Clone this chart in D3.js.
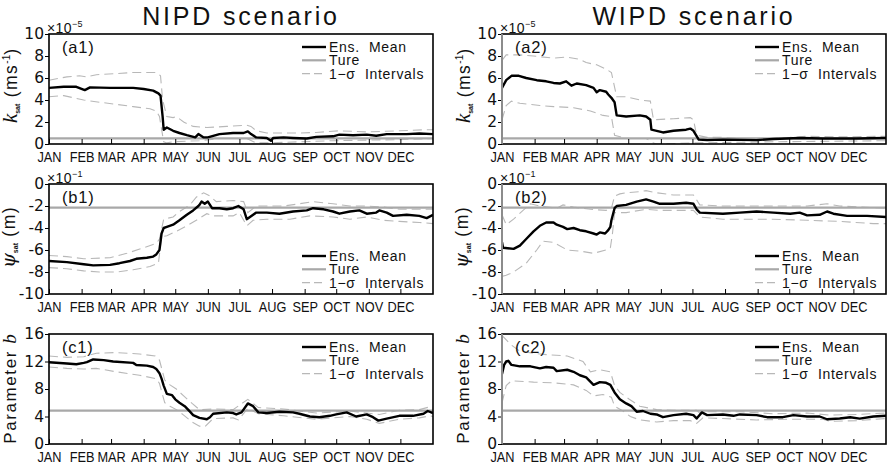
<!DOCTYPE html>
<html>
<head>
<meta charset="utf-8">
<script src="https://cdn.jsdelivr.net/npm/d3@7"></script>
<style>
  body { margin: 0; background: #fff; }
  svg { display: block; }
  text { font-family: "Liberation Sans", Arial, sans-serif; fill: #111; }
</style>
</head>
<body>
<svg id="chart" width="887" height="462"></svg>
<script>
// Month ticks (day of year)
const months = ["JAN", "FEB", "MAR", "APR", "MAY", "JUN", "JUL", "AUG", "SEP", "OCT", "NOV", "DEC"];
const monthStart = [0, 31, 59, 90, 120, 151, 181, 212, 243, 273, 304, 334];

// True parameter values
const trueK = 0.52, truePsi = -2.15, trueB = 4.85;

// ---- k_sat, NIPD (x1e-5) ----
const a1Mean = [[0,5.1],[14,5.2],[26,5.2],[34,4.9],[39,5.15],[58,5.1],[80,5.1],[90,5.0],[99,4.85],[104,4.6],[106,4.4],[108,2.5],[109,1.3],[112,1.5],[118,1.2],[124,1.0],[131,0.8],[139,0.6],[142,0.9],[147,0.6],[151,0.6],[162,0.9],[175,1.0],[185,1.0],[189,1.15],[192,0.9],[197,0.6],[207,0.55],[211,0.3],[213,0.55],[223,0.6],[232,0.55],[245,0.5],[254,0.65],[270,0.7],[276,0.85],[289,0.8],[302,0.85],[311,0.75],[321,0.9],[340,0.9],[352,0.95],[365,0.9]];
const a1Up = [[0,5.8],[17,6.1],[29,6.2],[36,6.1],[45,6.3],[64,6.4],[80,6.5],[102,6.5],[106,6.2],[108,4.0],[112,2.5],[118,2.4],[121,2.5],[128,2.0],[137,1.6],[150,1.5],[169,1.6],[188,1.7],[192,1.6],[197,1.2],[207,1.0],[238,1.0],[254,1.05],[276,1.2],[302,1.1],[333,1.2],[359,1.3],[365,1.3]];
const a1Lo = [[0,4.3],[14,4.4],[33,4.0],[48,3.8],[64,3.6],[80,3.4],[96,3.2],[102,3.0],[105,2.5],[109,0.2],[112,0.1],[118,0.2],[143,0.3],[162,0.5],[188,0.5],[197,0.1],[207,0.1],[270,0.3],[333,0.4],[365,0.5]];

// ---- k_sat, WIPD (x1e-5) ----
const a2Mean = [[0,5.1],[4,5.8],[9,6.2],[16,6.2],[23,6.0],[33,5.8],[42,5.7],[49,5.55],[55,5.5],[61,5.7],[66,5.3],[71,5.5],[80,5.35],[87,5.1],[90,4.7],[93,4.9],[99,4.75],[101,4.5],[104,4.2],[107,3.8],[109,2.6],[118,2.5],[131,2.6],[137,2.5],[141,2.2],[142,1.3],[147,1.2],[153,1.05],[163,1.2],[175,1.3],[179,1.4],[182,1.2],[187,0.4],[195,0.35],[210,0.4],[242,0.35],[258,0.45],[283,0.55],[305,0.5],[337,0.5],[365,0.55]];
const a2Up = [[0,7.6],[4,8.1],[17,8.1],[30,8.0],[49,7.8],[61,7.9],[74,7.7],[80,7.4],[90,7.2],[99,6.8],[104,6.5],[109,4.3],[118,4.3],[131,4.0],[141,3.9],[144,2.2],[163,2.3],[179,2.4],[182,2.2],[185,0.8],[195,0.6],[210,0.6],[226,0.5],[242,0.5],[274,0.6],[290,0.7],[321,0.65],[365,0.7]];
const a2Lo = [[0,2.2],[4,3.5],[9,3.9],[17,3.7],[36,3.5],[49,3.4],[68,3.3],[84,3.0],[96,2.6],[104,2.5],[107,0.8],[118,0.5],[137,0.5],[144,0.1],[147,0.0],[182,0.1],[258,0.2],[365,0.3]];

// ---- psi_sat, NIPD (x1e-1) ----
const b1Mean = [[0,-7.0],[17,-7.1],[33,-7.3],[42,-7.4],[58,-7.35],[67,-7.2],[77,-7.0],[83,-6.8],[93,-6.7],[99,-6.6],[102,-6.4],[105,-6.0],[107,-4.5],[109,-4.0],[112,-3.9],[118,-3.7],[124,-3.3],[131,-2.8],[137,-2.4],[142,-2.0],[143,-1.9],[145,-1.6],[148,-1.8],[151,-1.6],[155,-2.2],[162,-2.2],[169,-2.3],[175,-2.2],[180,-2.0],[185,-2.3],[188,-3.2],[191,-3.0],[197,-2.6],[207,-2.6],[219,-2.7],[232,-2.5],[245,-2.4],[251,-2.2],[261,-2.3],[270,-2.5],[276,-2.7],[286,-2.5],[295,-2.4],[302,-2.7],[311,-2.6],[314,-2.4],[321,-2.6],[327,-2.9],[340,-2.8],[352,-2.9],[359,-3.1],[365,-2.8]];
const b1Up = [[0,-6.5],[17,-6.6],[33,-6.8],[58,-6.7],[74,-6.3],[90,-5.8],[102,-5.4],[105,-5.0],[109,-3.2],[118,-3.0],[124,-2.5],[134,-1.9],[140,-1.2],[147,-0.8],[153,-1.1],[159,-1.6],[175,-1.5],[185,-1.6],[189,-2.6],[197,-2.0],[223,-2.0],[238,-1.8],[251,-1.6],[270,-1.8],[286,-2.0],[302,-2.0],[318,-2.1],[333,-2.3],[365,-2.3]];
const b1Lo = [[0,-7.6],[17,-7.7],[33,-7.9],[48,-8.0],[64,-8.0],[80,-7.8],[96,-7.5],[104,-7.2],[107,-4.8],[112,-4.7],[121,-4.3],[131,-3.8],[140,-3.3],[150,-2.7],[156,-2.9],[175,-2.9],[181,-2.6],[188,-3.8],[194,-3.3],[207,-3.2],[229,-3.2],[248,-2.9],[270,-3.0],[286,-3.2],[302,-3.0],[318,-3.3],[333,-3.4],[352,-3.5],[365,-3.6]];

// ---- psi_sat, WIPD (x1e-1) ----
const b2Mean = [[0,-5.3],[1,-5.8],[11,-5.9],[17,-5.6],[23,-5.0],[30,-4.3],[36,-3.8],[42,-3.5],[49,-3.5],[52,-3.7],[58,-3.9],[62,-4.1],[68,-4.0],[74,-4.2],[80,-4.3],[87,-4.5],[90,-4.6],[93,-4.4],[98,-4.5],[101,-4.2],[103,-3.9],[104,-3.3],[107,-2.2],[109,-2.0],[118,-1.9],[128,-1.6],[137,-1.4],[144,-1.6],[150,-1.8],[163,-1.8],[175,-1.7],[182,-1.8],[185,-2.3],[188,-2.6],[210,-2.7],[226,-2.6],[242,-2.5],[258,-2.6],[274,-2.7],[283,-2.6],[290,-2.85],[302,-2.8],[309,-2.5],[315,-2.7],[328,-2.9],[347,-2.9],[365,-3.0]];
const b2Up = [[0,-2.8],[4,-3.7],[11,-3.2],[20,-2.4],[27,-1.8],[36,-2.0],[52,-2.2],[58,-1.9],[68,-2.1],[84,-2.3],[99,-2.4],[104,-2.2],[107,-1.1],[112,-0.9],[118,-0.8],[131,-0.7],[137,-0.6],[147,-0.8],[163,-1.0],[182,-1.0],[188,-1.9],[210,-2.0],[258,-2.0],[290,-2.0],[309,-1.8],[321,-2.0],[365,-2.2]];
const b2Lo = [[0,-8.4],[4,-8.3],[11,-8.0],[23,-7.2],[33,-6.0],[39,-5.2],[49,-5.3],[62,-6.0],[74,-6.1],[87,-6.3],[99,-6.0],[103,-5.8],[105,-4.5],[107,-2.6],[118,-2.6],[137,-2.3],[150,-2.4],[182,-2.4],[188,-3.0],[210,-3.2],[258,-3.2],[290,-3.3],[321,-3.4],[353,-3.6],[365,-3.6]];

// ---- parameter b, NIPD ----
const c1Mean = [[0,11.9],[17,11.7],[26,11.6],[33,11.8],[36,11.9],[42,12.3],[52,12.2],[61,12.0],[80,11.8],[83,11.5],[93,11.4],[99,11.2],[102,10.9],[105,10.3],[107,9.5],[109,8.5],[112,7.3],[117,7.1],[120,6.5],[124,6.0],[129,5.5],[134,4.7],[137,4.2],[143,3.8],[150,3.6],[153,3.9],[156,4.4],[169,4.6],[175,4.5],[178,4.3],[183,4.6],[189,5.9],[194,5.5],[199,4.6],[207,4.5],[219,4.7],[232,4.6],[238,4.4],[248,4.0],[257,3.9],[267,4.1],[273,4.3],[283,4.6],[292,4.0],[302,4.3],[308,3.9],[313,3.4],[321,3.7],[333,4.1],[346,4.1],[356,4.4],[360,4.8],[365,4.5]];
const c1Up = [[0,12.8],[17,12.6],[33,12.7],[45,13.2],[64,13.3],[86,13.1],[101,12.8],[105,12.2],[110,9.3],[115,8.6],[121,8.0],[128,7.0],[136,5.9],[143,5.0],[159,5.1],[175,5.0],[189,6.5],[199,5.3],[223,5.1],[254,4.5],[286,4.8],[302,4.5],[314,4.3],[333,4.9],[352,5.0],[362,5.4],[365,5.2]];
const c1Lo = [[0,11.2],[17,11.0],[33,10.9],[45,11.0],[64,10.5],[86,10.0],[102,9.5],[105,8.8],[110,6.0],[115,5.5],[121,5.0],[128,4.2],[136,3.2],[143,2.6],[148,2.5],[156,3.7],[175,3.8],[180,3.5],[189,5.2],[199,4.4],[223,4.1],[254,3.6],[286,4.0],[302,3.6],[314,3.0],[333,3.6],[352,3.8],[362,4.1],[365,4.0]];

// ---- parameter b, WIPD ----
const c2Mean = [[0,10.2],[2,11.5],[4,12.0],[6,12.1],[9,11.5],[17,11.3],[27,11.3],[36,11.0],[42,11.2],[49,11.1],[52,10.6],[62,10.8],[68,10.5],[74,10.0],[80,9.7],[87,8.6],[93,9.0],[99,8.9],[103,8.6],[107,7.5],[112,6.5],[118,5.9],[123,5.5],[128,4.7],[134,4.8],[141,4.4],[147,4.3],[153,3.9],[163,4.2],[175,4.4],[182,4.2],[185,3.7],[190,4.6],[195,4.2],[210,4.3],[220,4.1],[226,4.3],[242,4.2],[252,3.9],[267,3.9],[277,4.2],[290,4.0],[302,4.0],[309,3.6],[321,3.7],[331,3.9],[340,3.7],[353,4.0],[365,4.1]];
const c2Up = [[0,15.8],[8,14.5],[17,13.5],[30,13.2],[42,13.0],[62,12.8],[77,12.0],[84,10.5],[93,10.8],[103,10.5],[107,8.5],[112,7.5],[121,6.5],[131,5.5],[147,5.0],[163,4.9],[185,4.9],[188,4.5],[195,4.7],[226,4.7],[258,4.4],[290,4.5],[312,4.2],[337,4.3],[365,4.5]];
const c2Lo = [[0,6.0],[4,8.5],[9,9.2],[30,9.0],[49,8.9],[68,8.6],[80,7.8],[87,7.0],[96,7.2],[104,6.8],[107,5.5],[115,4.8],[122,4.0],[131,3.5],[147,3.2],[163,3.4],[179,3.4],[185,3.0],[191,3.8],[210,3.7],[242,3.5],[274,3.6],[305,3.6],[312,3.3],[337,3.4],[365,3.7]];

const kTicks = [0, 2, 4, 6, 8, 10];
const psiTicks = [0, -2, -4, -6, -8, -10];
const bTicks = [0, 4, 8, 12, 16];

const legendLabels = ["Ens.  Mean", "Ture", "1\u2212\u03c3  Intervals"];

const svg = d3.select("#chart");

const colLeft = [49, 502];
const plotW = 384, plotH = 110;
const rowTop = [34, 184, 334];

const rows = [
  { ticks: kTicks, dom: [0, 10], truth: trueK, exp: "\u22125", ylab: "k", legendTop: true,
    series: [[a1Mean, a1Up, a1Lo], [a2Mean, a2Up, a2Lo]], tag: "a" },
  { ticks: psiTicks, dom: [-10, 0], truth: truePsi, exp: "\u22121", ylab: "psi", legendTop: false,
    series: [[b1Mean, b1Up, b1Lo], [b2Mean, b2Up, b2Lo]], tag: "b" },
  { ticks: bTicks, dom: [0, 16], truth: trueB, exp: null, ylab: "b", legendTop: true,
    series: [[c1Mean, c1Up, c1Lo], [c2Mean, c2Up, c2Lo]], tag: "c" }
];

// titles
["NIPD  scenario", "WIPD  scenario"].forEach((t, i) => {
  svg.append("text")
    .attr("x", colLeft[i] + plotW / 2).attr("y", 25)
    .attr("text-anchor", "middle")
    .style("font-size", "25px").style("letter-spacing", "2.8px")
    .text(t);
});

rows.forEach((r, ri) => {
  [0, 1].forEach(ci => {
    const left = colLeft[ci], top = rowTop[ri];
    const x = d3.scaleLinear().domain([0, 365]).range([left, left + plotW]);
    const y = d3.scaleLinear().domain(r.dom).range([top + plotH, top]);
    const g = svg.append("g");

    const clipId = "clip" + ri + ci;
    g.append("clipPath").attr("id", clipId)
      .append("rect").attr("x", left).attr("y", top).attr("width", plotW).attr("height", plotH);

    const line = d3.line().x(d => x(d[0])).y(d => y(d[1]));
    const [mean, up, lo] = r.series[ci];
    const dg = g.append("g").attr("clip-path", "url(#" + clipId + ")");

    [up, lo].forEach(s => {
      dg.append("path").attr("d", line(s))
        .attr("fill", "none").attr("stroke", "#b8b8b8")
        .attr("stroke-width", 1.1).attr("stroke-dasharray", "9,5");
    });
    dg.append("line")
      .attr("x1", x(0)).attr("x2", x(365))
      .attr("y1", y(r.truth)).attr("y2", y(r.truth))
      .attr("stroke", "#a8a8a8").attr("stroke-width", 2.2);
    dg.append("path").attr("d", line(mean))
      .attr("fill", "none").attr("stroke", "#000")
      .attr("stroke-width", 2.4).attr("stroke-linejoin", "round");

    // y axis, ticks outward
    const yAxis = d3.axisLeft(y).tickValues(r.ticks).tickSize(4).tickFormat(d => d);
    const ya = g.append("g").attr("transform", "translate(" + left + ",0)").call(yAxis);
    ya.select(".domain").remove();
    ya.selectAll("text").attr("x", -5)
      .style("font-family", "'DejaVu Sans', sans-serif").style("font-size", "15.5px").attr("fill", "#111");

    // x axis, ticks inward, condensed month labels
    const xAxis = d3.axisBottom(x).tickValues(monthStart).tickSizeInner(-5).tickSizeOuter(0)
      .tickPadding(8).tickFormat((d, i) => months[i]);
    const xa = g.append("g").attr("transform", "translate(0," + (top + plotH) + ")").call(xAxis);
    xa.select(".domain").remove();
    xa.selectAll("text")
      .style("font-size", "14.5px").attr("fill", "#111")
      .each(function () {
        const w = this.getComputedTextLength();
        d3.select(this).attr("textLength", w * 0.88).attr("lengthAdjust", "spacingAndGlyphs");
      });

    // frame
    g.append("rect").attr("x", left).attr("y", top).attr("width", plotW).attr("height", plotH)
      .attr("fill", "none").attr("stroke", "#000").attr("stroke-width", 1.6);
    if (ci === 1) {
      g.append("line").attr("x1", left).attr("x2", left).attr("y1", top).attr("y2", top + plotH)
        .attr("stroke", "#8c8c8c").attr("stroke-width", 2);
    }

    // exponent
    if (r.exp) {
      const e = g.append("text").attr("x", left - 2).attr("y", top - 1)
        .style("font-size", "14px").style("letter-spacing", "0.4px").attr("fill", "#333");
      e.append("tspan").text("\u00d710");
      e.append("tspan").attr("dy", -6).style("font-size", "9px").text(r.exp);
    }

    // panel tag
    g.append("text").attr("x", left + 13).attr("y", top + 19)
      .style("font-size", "16.5px").style("letter-spacing", "0.8px")
      .text("(" + r.tag + (ci + 1) + ")");

    // y label
    const yl = g.append("text").attr("text-anchor", "middle");
    if (r.ylab === "k") {
      yl.attr("transform", "translate(" + (left - 32) + "," + (top + plotH / 2 - 3) + ") rotate(-90)");
      yl.append("tspan").style("font-family", "'Liberation Serif', serif").style("font-style", "italic")
        .style("font-size", "21px").text("k");
      yl.append("tspan").attr("dy", 3).style("font-size", "7px").style("font-weight", "bold").text("sat");
      yl.append("tspan").attr("dy", -3).style("font-size", "17.5px").style("letter-spacing", "1.5px").text("  (ms");
      yl.append("tspan").attr("dy", -7).style("font-size", "10px").text("-1");
      yl.append("tspan").attr("dy", 7).style("font-size", "17.5px").text(")");
    } else if (r.ylab === "psi") {
      yl.attr("transform", "translate(" + (left - 34) + "," + (top + plotH / 2 - 2) + ") rotate(-90)");
      yl.append("tspan").style("font-family", "'DejaVu Serif', serif").style("font-style", "italic")
        .style("font-size", "19px").text("\u03c8");
      yl.append("tspan").attr("dy", 3).style("font-size", "7px").style("font-weight", "bold").text("sat");
      yl.append("tspan").attr("dy", -3).style("font-size", "17.5px").style("letter-spacing", "1.5px").text("  (m)");
    } else {
      yl.attr("transform", "translate(" + (left - 33) + "," + (top + plotH / 2) + ") rotate(-90)");
      yl.append("tspan").style("font-size", "17px").style("letter-spacing", "1.6px").text("Parameter ");
      yl.append("tspan").style("font-family", "'Liberation Serif', serif").style("font-style", "italic")
        .style("font-size", "19px").text("b");
    }

    // legend
    const ly0 = r.legendTop ? top + 13 : top + plotH - 38;
    const lx = left + 253;
    const styles = [
      { c: "#000", w: 2.4, dash: null },
      { c: "#a8a8a8", w: 2.2, dash: null },
      { c: "#b8b8b8", w: 1.1, dash: "8,4" }
    ];
    legendLabels.forEach((lab, i) => {
      const yy = ly0 + i * 13.3;
      g.append("line").attr("x1", lx).attr("x2", lx + 24).attr("y1", yy).attr("y2", yy)
        .attr("stroke", styles[i].c).attr("stroke-width", styles[i].w)
        .attr("stroke-dasharray", styles[i].dash);
      g.append("text").attr("x", lx + 27).attr("y", yy + 5)
        .style("font-size", "14px").style("letter-spacing", "0.7px")
        .style("white-space", "pre")
        .text(lab);
    });
  });
});
</script>
</body>
</html>
